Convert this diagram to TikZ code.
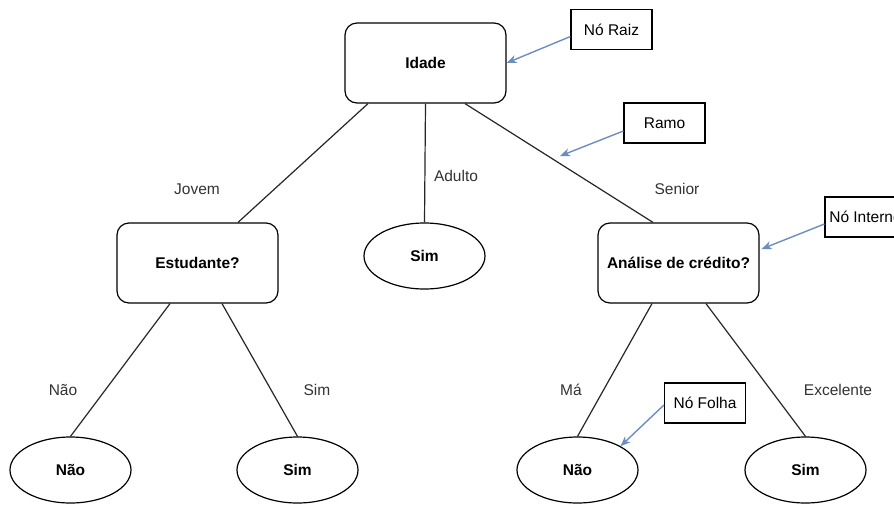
\documentclass[tikz,border=0pt]{standalone}
\usepackage{fontspec}
\setmainfont{Liberation Sans}
\usetikzlibrary{shapes.geometric,arrows.meta,calc}
\begin{document}
\begin{tikzpicture}[x=1pt,y=-1pt,
  decision/.style={draw=black,line width=1.2pt,rounded corners=12pt,minimum width=161pt,minimum height=80pt,inner sep=0pt,font=\fontsize{15.5}{18}\selectfont\bfseries},
  leaf/.style={draw=black,line width=1.2pt,ellipse,minimum width=121pt,minimum height=66pt,inner sep=0pt,font=\fontsize{15.5}{18}\selectfont\bfseries},
  callout/.style={draw=black,line width=1.2pt,minimum width=81pt,minimum height=40pt,inner sep=0pt,font=\fontsize{15.5}{18}\selectfont},
  lbl/.style={inner sep=0pt,font=\fontsize{15.5}{18}\selectfont,text=black!80},
  branch/.style={draw=black!85,line width=1.2pt},
  pointer/.style={draw={rgb,255:red,108;green,142;blue,191},line width=1.4pt,-{Stealth[length=10pt,width=8pt,inset=3pt]}}
]
\useasboundingbox (0,0) rectangle (894,504);
\clip (0,0) rectangle (894,504);
\fill[white] (0,0) rectangle (894,504);

\node[decision] (idade) at (425.5,63) {Idade};
\node[decision] (estud) at (197.5,263) {Estudante?};
\node[decision] (anal) at (678.5,263) {Análise de crédito?};
\node[leaf] (simA) at (424.5,256) {Sim};
\node[leaf] (naoE) at (70.5,470) {Não};
\node[leaf] (simE) at (297.5,470) {Sim};
\node[leaf] (naoA) at (577.5,470) {Não};
\node[leaf] (simX) at (805.5,470) {Sim};

\node[callout] (raiz) at (611.5,29.5) {Nó Raiz};
\node[callout] (ramo) at (664.5,123) {Ramo};
\node[callout] (interno) at (865.5,217) {Nó Interno};
\node[callout] (folha) at (705,403) {Nó Folha};

\draw[branch] ($(idade.south)+(-57.5,0)$) -- ($(estud.north)+(40.5,0)$);
\draw[branch] (idade.south) -- (simA.north);
\draw[branch] ($(idade.south)+(39.5,0)$) -- ($(anal.north)+(-25.5,0)$);
\draw[branch] ($(estud.south)+(-27.5,0)$) -- (naoE.north);
\draw[branch] ($(estud.south)+(24.5,0)$) -- (simE.north);
\draw[branch] ($(anal.south)+(-26.5,0)$) -- (naoA.north);
\draw[branch] ($(anal.south)+(27.5,0)$) -- (simX.north);

\node[lbl] (ljovem) at (197,189) {Jovem};
\node[lbl] (ladulto) at (456,176) {Adulto};
\node[lbl] (lsenior) at (677,189) {Senior};
\node[lbl] (lnao) at (63,390) {Não};
\node[lbl] (lsim) at (317,390) {Sim};
\node[lbl] (lma) at (571,390) {Má};
\node[lbl] (lexc) at (838,390) {Excelente};

\coordinate (ramotip) at (560,156);
\draw[pointer] ($(raiz.west)+(0,7)$) -- (idade.east);
\draw[pointer] ($(ramo.west)+(0,8)$) -- (ramotip);
\draw[pointer] ($(interno.west)+(0,7)$) -- ($(anal.east)+(2,-14)$);
\draw[pointer] ($(folha.west)+(0,2)$) -- (naoA.29);
\end{tikzpicture}
\end{document}
